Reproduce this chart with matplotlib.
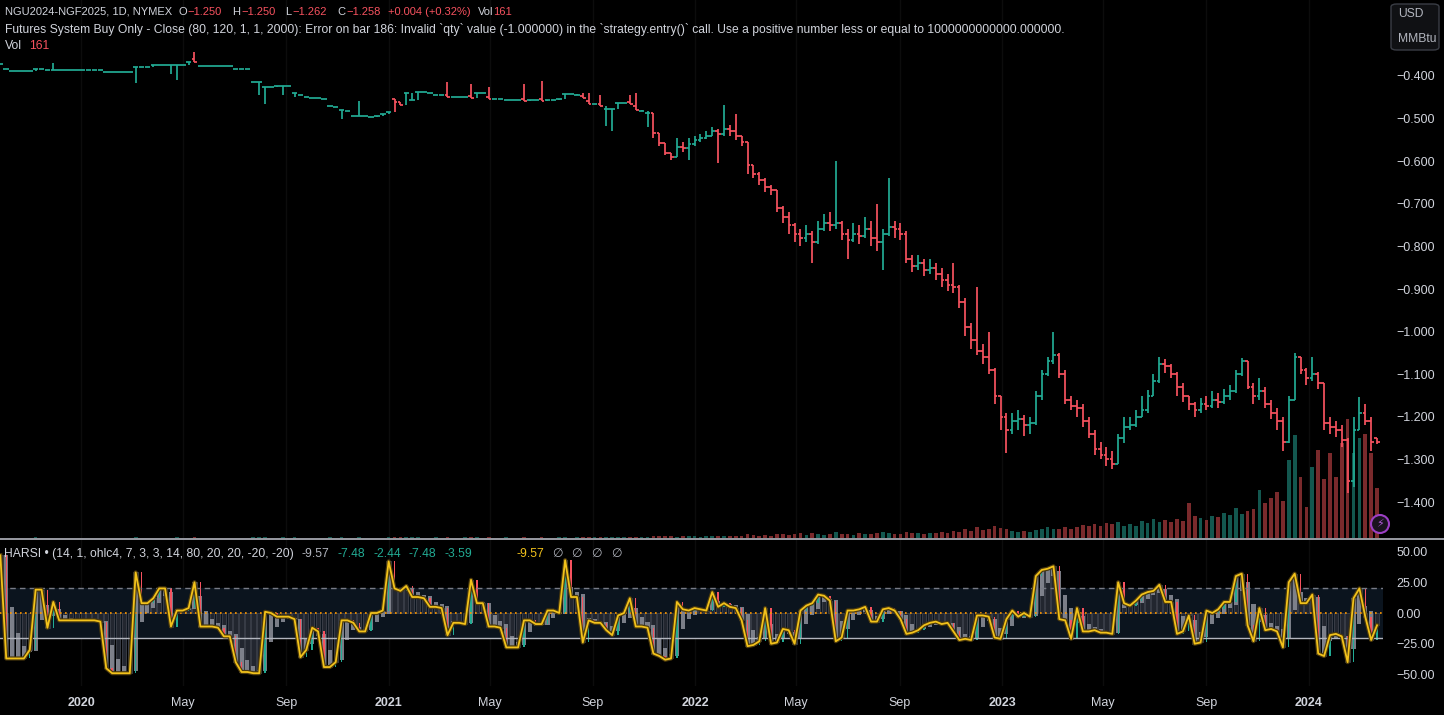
import numpy as np
import pandas as pd
import matplotlib
matplotlib.use("Agg")
import matplotlib.pyplot as plt
import matplotlib.dates as mdates
from matplotlib.collections import LineCollection
from matplotlib.patches import FancyBboxPatch, Circle
import matplotlib.patheffects as pe

plt.rcParams['font.family'] = ['Liberation Sans', 'DejaVu Sans']

# ---------------- data (weekly sampling) ----------------
start_date = '2019-09-27'
close = [-0.372,-0.384,-0.388,-0.388,-0.388,-0.388,-0.384,-0.384,-0.386,-0.386,
 -0.386,-0.386,-0.386,-0.386,-0.386,-0.386,-0.386,-0.386,-0.390,-0.390,
 -0.390,-0.391,-0.391,-0.379,-0.379,-0.379,-0.374,-0.374,-0.374,-0.374,
 -0.374,-0.374,-0.366,-0.367,-0.377,-0.377,-0.377,-0.377,-0.377,-0.377,
 -0.384,-0.384,-0.384,-0.415,-0.415,-0.426,-0.426,-0.424,-0.424,-0.424,
 -0.440,-0.445,-0.450,-0.452,-0.452,-0.455,-0.470,-0.473,-0.480,-0.483,
 -0.494,-0.494,-0.494,-0.496,-0.494,-0.490,-0.485,-0.460,-0.468,-0.440,
 -0.457,-0.437,-0.437,-0.440,-0.445,-0.445,-0.450,-0.450,-0.450,-0.449,
 -0.452,-0.440,-0.441,-0.454,-0.454,-0.454,-0.457,-0.457,-0.457,-0.458,
 -0.457,-0.457,-0.458,-0.457,-0.457,-0.455,-0.442,-0.442,-0.445,-0.452,
 -0.465,-0.465,-0.470,-0.477,-0.477,-0.463,-0.463,-0.466,-0.480,-0.482,
 -0.487,-0.534,-0.557,-0.580,-0.590,-0.567,-0.570,-0.560,-0.550,-0.545,
 -0.540,-0.530,-0.535,-0.525,-0.530,-0.540,-0.555,-0.610,-0.630,-0.645,
 -0.660,-0.668,-0.710,-0.730,-0.750,-0.770,-0.780,-0.770,-0.790,-0.760,
 -0.745,-0.750,-0.745,-0.770,-0.785,-0.770,-0.775,-0.760,-0.780,-0.790,
 -0.770,-0.755,-0.760,-0.770,-0.830,-0.845,-0.840,-0.855,-0.850,-0.865,
 -0.880,-0.890,-0.895,-0.930,-0.990,-1.020,-1.045,-1.060,-1.090,-1.150,
 -1.200,-1.230,-1.210,-1.205,-1.220,-1.215,-1.150,-1.100,-1.070,-1.055,
 -1.100,-1.160,-1.175,-1.180,-1.210,-1.240,-1.275,-1.290,-1.300,-1.310,
 -1.250,-1.225,-1.220,-1.200,-1.185,-1.150,-1.115,-1.075,-1.080,-1.100,
 -1.130,-1.150,-1.170,-1.185,-1.170,-1.175,-1.160,-1.165,-1.150,-1.140,
 -1.100,-1.070,-1.130,-1.150,-1.140,-1.170,-1.190,-1.210,-1.260,-1.160,
 -1.060,-1.090,-1.110,-1.100,-1.120,-1.215,-1.225,-1.230,-1.255,-1.350,
 -1.230,-1.190,-1.210,-1.260,-1.258]

open_ = [-0.372,-0.384,-0.388,-0.388,-0.388,-0.388,-0.384,-0.384,-0.386,-0.386,
 -0.386,-0.386,-0.386,-0.386,-0.386,-0.386,-0.386,-0.386,-0.390,-0.390,
 -0.390,-0.391,-0.391,-0.379,-0.379,-0.379,-0.374,-0.374,-0.374,-0.374,
 -0.374,-0.374,-0.366,-0.360,-0.377,-0.377,-0.377,-0.377,-0.377,-0.377,
 -0.384,-0.384,-0.384,-0.415,-0.415,-0.426,-0.426,-0.424,-0.424,-0.424,
 -0.440,-0.445,-0.450,-0.452,-0.452,-0.455,-0.470,-0.473,-0.480,-0.483,
 -0.494,-0.494,-0.494,-0.496,-0.494,-0.490,-0.485,-0.455,-0.462,-0.440,
 -0.457,-0.437,-0.437,-0.440,-0.445,-0.445,-0.445,-0.450,-0.450,-0.449,
 -0.448,-0.440,-0.441,-0.450,-0.454,-0.454,-0.457,-0.457,-0.457,-0.455,
 -0.457,-0.457,-0.455,-0.457,-0.457,-0.455,-0.442,-0.442,-0.445,-0.447,
 -0.458,-0.465,-0.465,-0.477,-0.477,-0.463,-0.463,-0.460,-0.470,-0.482,
 -0.487,-0.487,-0.534,-0.557,-0.580,-0.590,-0.567,-0.570,-0.560,-0.550,
 -0.545,-0.540,-0.530,-0.535,-0.525,-0.530,-0.540,-0.555,-0.610,-0.630,
 -0.645,-0.660,-0.668,-0.710,-0.730,-0.750,-0.770,-0.780,-0.770,-0.790,
 -0.760,-0.745,-0.750,-0.745,-0.770,-0.785,-0.770,-0.775,-0.760,-0.780,
 -0.790,-0.770,-0.755,-0.760,-0.770,-0.830,-0.845,-0.840,-0.855,-0.850,
 -0.865,-0.880,-0.890,-0.895,-0.930,-0.990,-1.020,-1.045,-1.060,-1.090,
 -1.150,-1.200,-1.230,-1.210,-1.205,-1.220,-1.215,-1.150,-1.100,-1.070,
 -1.055,-1.100,-1.160,-1.175,-1.180,-1.210,-1.240,-1.275,-1.290,-1.300,
 -1.310,-1.250,-1.225,-1.220,-1.200,-1.185,-1.150,-1.115,-1.075,-1.080,
 -1.100,-1.130,-1.150,-1.170,-1.185,-1.170,-1.175,-1.160,-1.165,-1.150,
 -1.140,-1.100,-1.070,-1.130,-1.150,-1.140,-1.170,-1.190,-1.210,-1.260,
 -1.160,-1.060,-1.090,-1.110,-1.100,-1.120,-1.215,-1.225,-1.230,-1.255,
 -1.350,-1.230,-1.190,-1.210,-1.250]

high = [-0.372,-0.384,-0.388,-0.388,-0.388,-0.388,-0.384,-0.384,-0.386,-0.369,
 -0.386,-0.386,-0.386,-0.386,-0.386,-0.386,-0.386,-0.386,-0.390,-0.390,
 -0.390,-0.391,-0.391,-0.379,-0.379,-0.379,-0.374,-0.374,-0.374,-0.374,
 -0.374,-0.374,-0.366,-0.344,-0.377,-0.377,-0.377,-0.377,-0.377,-0.377,
 -0.384,-0.384,-0.384,-0.415,-0.415,-0.426,-0.426,-0.424,-0.424,-0.424,
 -0.440,-0.445,-0.450,-0.452,-0.452,-0.455,-0.470,-0.473,-0.480,-0.483,
 -0.494,-0.459,-0.494,-0.496,-0.494,-0.490,-0.485,-0.455,-0.460,-0.440,
 -0.440,-0.437,-0.437,-0.440,-0.445,-0.445,-0.414,-0.450,-0.450,-0.449,
 -0.418,-0.440,-0.440,-0.425,-0.454,-0.454,-0.457,-0.457,-0.457,-0.419,
 -0.457,-0.457,-0.412,-0.457,-0.457,-0.455,-0.442,-0.442,-0.442,-0.440,
 -0.440,-0.465,-0.445,-0.470,-0.477,-0.463,-0.463,-0.445,-0.440,-0.480,
 -0.482,-0.487,-0.534,-0.560,-0.580,-0.545,-0.555,-0.545,-0.540,-0.535,
 -0.530,-0.520,-0.525,-0.468,-0.515,-0.490,-0.540,-0.600,-0.610,-0.625,
 -0.640,-0.655,-0.670,-0.705,-0.720,-0.745,-0.760,-0.750,-0.765,-0.740,
 -0.725,-0.720,-0.600,-0.740,-0.760,-0.745,-0.750,-0.730,-0.740,-0.700,
 -0.760,-0.640,-0.740,-0.745,-0.765,-0.820,-0.820,-0.830,-0.830,-0.840,
 -0.850,-0.865,-0.840,-0.890,-0.920,-0.980,-0.895,-1.030,-1.000,-1.085,
 -1.150,-1.190,-1.190,-1.185,-1.195,-1.200,-1.140,-1.090,-1.060,-1.000,
 -1.050,-1.090,-1.150,-1.160,-1.170,-1.200,-1.230,-1.260,-1.270,-1.280,
 -1.240,-1.200,-1.200,-1.185,-1.150,-1.137,-1.100,-1.060,-1.065,-1.075,
 -1.095,-1.120,-1.150,-1.165,-1.155,-1.150,-1.140,-1.145,-1.135,-1.125,
 -1.090,-1.062,-1.075,-1.120,-1.110,-1.130,-1.160,-1.180,-1.200,-1.150,
 -1.050,-1.060,-1.085,-1.060,-1.095,-1.130,-1.200,-1.210,-1.220,-1.250,
 -1.200,-1.153,-1.170,-1.200,-1.250]

low = [-0.372,-0.384,-0.388,-0.388,-0.388,-0.388,-0.388,-0.384,-0.386,-0.386,
 -0.386,-0.386,-0.386,-0.386,-0.386,-0.386,-0.386,-0.386,-0.390,-0.390,
 -0.390,-0.391,-0.391,-0.417,-0.379,-0.379,-0.379,-0.374,-0.374,-0.395,
 -0.410,-0.374,-0.374,-0.367,-0.377,-0.377,-0.377,-0.377,-0.377,-0.377,
 -0.384,-0.384,-0.384,-0.415,-0.445,-0.466,-0.426,-0.426,-0.445,-0.424,
 -0.450,-0.445,-0.450,-0.452,-0.452,-0.455,-0.470,-0.473,-0.500,-0.483,
 -0.494,-0.494,-0.494,-0.496,-0.496,-0.494,-0.490,-0.485,-0.468,-0.468,
 -0.457,-0.457,-0.437,-0.440,-0.445,-0.445,-0.450,-0.450,-0.450,-0.450,
 -0.452,-0.452,-0.441,-0.454,-0.454,-0.454,-0.457,-0.457,-0.457,-0.458,
 -0.458,-0.457,-0.458,-0.458,-0.457,-0.457,-0.455,-0.442,-0.445,-0.452,
 -0.465,-0.465,-0.470,-0.517,-0.530,-0.477,-0.463,-0.466,-0.480,-0.482,
 -0.520,-0.545,-0.565,-0.585,-0.597,-0.590,-0.578,-0.597,-0.565,-0.555,
 -0.548,-0.540,-0.605,-0.540,-0.540,-0.550,-0.565,-0.630,-0.640,-0.655,
 -0.672,-0.680,-0.720,-0.745,-0.770,-0.790,-0.800,-0.790,-0.840,-0.795,
 -0.765,-0.765,-0.760,-0.785,-0.830,-0.790,-0.795,-0.780,-0.800,-0.810,
 -0.855,-0.775,-0.780,-0.785,-0.840,-0.860,-0.855,-0.870,-0.865,-0.880,
 -0.895,-0.905,-0.910,-0.945,-1.010,-1.040,-1.055,-1.075,-1.100,-1.170,
 -1.230,-1.285,-1.240,-1.230,-1.245,-1.240,-1.220,-1.160,-1.105,-1.075,
 -1.110,-1.170,-1.185,-1.200,-1.225,-1.250,-1.290,-1.300,-1.315,-1.322,
 -1.310,-1.262,-1.230,-1.225,-1.200,-1.190,-1.150,-1.120,-1.097,-1.110,
 -1.150,-1.165,-1.185,-1.200,-1.190,-1.185,-1.180,-1.180,-1.170,-1.160,
 -1.145,-1.105,-1.135,-1.170,-1.160,-1.180,-1.205,-1.230,-1.280,-1.262,
 -1.160,-1.100,-1.125,-1.115,-1.135,-1.230,-1.240,-1.247,-1.270,-1.380,
 -1.365,-1.215,-1.220,-1.280,-1.265]

volume = [1,0,0,1,0,0,2,0,0,1, 0,0,1,0,0,0,1,0,0,0, 1,0,0,2,0,0,1,0,0,1,
 2,0,0,3,0,0,0,1,0,0, 0,1,0,3,2,3,1,0,2,1, 2,1,1,0,1,1,2,1,2,1,
 1,2,0,1,1,0,2,3,2,3, 2,3,1,1,2,1,3,1,1,2, 3,2,1,3,1,1,2,1,1,3,
 1,1,3,1,1,2,2,1,2,3, 3,2,3,4,4,3,2,3,4,3, 4,6,5,5,6,4,5,6,5,4,
 5,6,6,8,6,5,7,12,9,8, 10,8,14,12,10,13,16,11,15,12, 10,12,18,14,13,11,15,12,14,16,
 18,16,12,14,20,15,17,14,16,15, 18,16,22,20,30,24,35,26,30,38, 32,28,22,18,24,20,26,30,34,28,
 30,36,28,34,42,38,45,40,48,44, 52,40,46,38,55,48,60,50,58,52, 62,55,112,70,64,58,72,66,80,75,
 96,78,88,92,154,112,130,147,120,250, 330,195,100,227,282,190,272,195,304,384,
 272,323,336,272,161]

harsi_rsi = [47,-37,-37,-37,-37,-30,19,19,-12,9, -6,-6,-6,-6,-6,-6,-6,-7,-45,-49,
 -49,-49,-49,33,8,8,12,20,20,-11, 2,2,4,25,-11,-11,-11,-12,-19,-19,
 -40,-48,-48,-49,-49,1,0,-3,-3,-3, -5,-36,-30,-12,-15,-44,-44,-40,-6,-6,
 -8,-15,-15,0,0,2,42,20,18,22, 13,13,12,5,5,4,-18,-8,-8,-9,
 27,8,8,-11,-11,-12,-28,-28,-28,-6, -6,-9,-9,2,2,0,43,13,13,-24,
 -6,-8,-8,-14,-18,-2,0,12,-11,-11, -12,-33,-35,-38,-37,9,3,2,4,3,
 2,17,5,8,5,4,-6,-27,-26,-23, 4,-25,-24,-13,-14,-25,2,6,8,15,
 14,10,-23,-20,2,2,3,5,-7,-7, 3,4,2,-5,-17,-16,-14,-10,-8,-7,
 -9,-8,-15,-22,-21,-22,-2,-2,-3,-20, -21,-5,2,-3,0,-3,30,35,36,38,
 -5,-6,-21,4,-15,-15,-14,-16,-16,-17, 25,8,6,10,15,17,18,23,9,9,
 -17,-15,-2,-25,-24,2,0,3,9,9, 30,32,-10,-23,4,-14,-13,-15,-28,25,
 32,8,8,15,-33,-35,-18,-17,-19,-40, 12,20,-3,-22,-10]

price_ticks = [-0.4,-0.5,-0.6,-0.7,-0.8,-0.9,-1.0,-1.1,-1.2,-1.3,-1.4]
osc_ticks = [50, 25, 0, -25, -50]
month_ticks = ['2020-01-01','2020-05-01','2020-09-01','2021-01-01','2021-05-01','2021-09-01',
               '2022-01-01','2022-05-01','2022-09-01','2023-01-01','2023-05-01','2023-09-01',
               '2024-01-01']
month_labels = ['2020','May','Sep','2021','May','Sep','2022','May','Sep','2023','May','Sep','2024']

# ---------------- styling ----------------
BG = '#000000'
UP = '#22ab94'
DN = '#f7525f'
TXT = '#d1d4dc'
W, H = 1444, 715

def fx(x): return x / W
def fy(y): return 1 - y / H

fig = plt.figure(figsize=(W/100, H/100), dpi=100, facecolor=BG)
ax_vol = fig.add_axes([0, fy(538), fx(1383), 538/H])
ax = fig.add_axes([0, fy(538), fx(1383), 538/H], sharex=ax_vol)
ax2 = fig.add_axes([0, fy(686), fx(1383), 146/H])
for a in (ax_vol, ax, ax2):
    a.set_facecolor(BG)
    for s in a.spines.values():
        s.set_visible(False)
ax.patch.set_visible(False)

dates = pd.date_range(start_date, periods=len(close), freq='7D')
d = mdates.date2num(dates)
c = np.array(close)
o = np.array(open_)
hi = np.maximum(np.array(high), np.maximum(o, c))
lo = np.minimum(np.array(low), np.minimum(o, c))
up = c >= o
cols = [UP if u else DN for u in up]

xl = mdates.date2num(pd.Timestamp('2019-09-26 14:00'))
xr = mdates.date2num(pd.Timestamp('2024-03-29 02:00'))

# volume
vcols = ['#13574f' if u else '#7a2a2c' for u in up]
ax_vol.bar(d, volume, width=4.4, color=vcols, linewidth=0)
ax_vol.set_ylim(0, 1730)
ax_vol.set_yticks([])

# grid
for tk in month_ticks:
    tt = mdates.date2num(pd.Timestamp(tk))
    ax_vol.axvline(tt, color='#0c0c0c', lw=1, zorder=0)
    ax2.axvline(tt, color='#0c0c0c', lw=1, zorder=0)

# OHLC bars
segs = []
for i in range(len(d)):
    segs.append([(d[i], lo[i]), (d[i], hi[i])])
    segs.append([(d[i] - 3.3, o[i]), (d[i], o[i])])
    segs.append([(d[i], c[i]), (d[i] + 3.3, c[i])])
seg_cols = [col for col in cols for _ in range(3)]
ax.add_collection(LineCollection(segs, colors=seg_cols, linewidths=1.25))
ax.set_xlim(xl, xr)
ax.set_ylim(-1.4845, -0.2216)
ax.yaxis.tick_right()
ax.set_yticks(price_ticks)
ax.set_yticklabels([('\u2212%.3f' % abs(v)) for v in price_ticks])
ax.tick_params(axis='y', length=0, pad=9.5, labelsize=9, colors=TXT)
ax.tick_params(axis='x', bottom=False, labelbottom=False)
ax_vol.tick_params(axis='x', bottom=False, labelbottom=False)

# ---------------- HARSI pane ----------------
r = np.array(harsi_rsi, dtype=float)
ro = np.concatenate([[r[0]], r[:-1]])
ha_o = np.zeros_like(r)
ha_o[0] = r[0]
for i in range(1, len(r)):
    ha_o[i] = (ha_o[i-1] + r[i-1]) / 2
ax2.axhspan(-20, 20, color='#0b141e', zorder=0.5, lw=0)
ax2.bar(d, r, width=5.2, bottom=0, color='#22262f', edgecolor='#3e424c', linewidth=0.6, zorder=1)
ax2.bar(d, r - ha_o, width=4.8, bottom=ha_o, color='#8e919b', alpha=0.85, linewidth=0, zorder=1.5)
rc = [UP if a >= b else DN for a, b in zip(r, ro)]
ax2.bar(d, r - ro, width=1.6, bottom=ro, color=rc, linewidth=0, zorder=2)
ax2.axhline(20, color='#787b86', lw=1, ls=(0, (4, 3)), zorder=2.5)
ax2.axhline(-20, color='#b2b5be', lw=1, zorder=2.5)
ax2.axhline(0, color='#ff9800', lw=1.2, ls=(0, (1, 2)), zorder=2.5)
ax2.plot(d, r, color='#f2c21b', lw=1.3, zorder=3,
         path_effects=[pe.Stroke(linewidth=3.0, foreground='#4d3b0c'), pe.Normal()])
ax2.set_xlim(xl, xr)
ax2.set_ylim(-59.4, 59.4)
ax2.yaxis.tick_right()
ax2.set_yticks(osc_ticks)
ax2.set_yticklabels([('\u2212%.2f' % abs(v)) if v < 0 else '%.2f' % v for v in osc_ticks])
ax2.tick_params(axis='y', length=0, pad=9.5, labelsize=9, colors=TXT)
ax2.set_xticks([mdates.date2num(pd.Timestamp(tk)) for tk in month_ticks])
ax2.set_xticklabels(month_labels)
ax2.tick_params(axis='x', length=0, pad=8, labelsize=9, colors=TXT)
for lab in ax2.get_xticklabels():
    if lab.get_text().isdigit():
        lab.set_fontweight('bold')

# pane separator
fig.add_artist(plt.Line2D([0, 1], [fy(539), fy(539)], color='#b2b5be', lw=1.2))

# ---------------- texts ----------------
renderer = fig.canvas.get_renderer()

def chain(x, y, parts, fs=8.7):
    for s, col, gap in parts:
        tx = fig.text(fx(x), fy(y), s, color=col, fontsize=fs, va='center', ha='left')
        w = tx.get_window_extent(renderer=renderer).width
        x = x + w + gap

chain(5, 12, [('NGU2024-NGF2025, 1D, NYMEX', TXT, 6), ('O', TXT, 1), ('\u22121.250', DN, 10),
              ('H', TXT, 1), ('\u22121.250', DN, 10), ('L', TXT, 1), ('\u22121.262', DN, 10),
              ('C', TXT, 1), ('\u22121.258', DN, 8), ('+0.004 (+0.32%)', DN, 7),
              ('Vol', TXT, 0), ('161', DN, 0)], fs=8.0)
chain(5, 29.5, [('Futures System Buy Only - Close (80, 120, 1, 1, 2000): Error on bar 186: Invalid `qty` value (-1.000000) in the `strategy.entry()` call. Use a positive number less or equal to 1000000000000.000000.', TXT, 0)])
chain(5, 46, [('Vol', TXT, 7), ('161', DN, 0)])

chain(4, 554, [('HARSI \u2022 (14, 1, ohlc4, 7, 3, 3, 14, 80, 20, 20, -20, -20)', TXT, 8),
               ('-9.57', '#b2b5be', 8), ('-7.48', UP, 8), ('-2.44', UP, 8),
               ('-7.48', UP, 8), ('-3.59', UP, 44), ('-9.57', '#f2c21b', 8),
               ('\u2205', '#b2b5be', 9), ('\u2205', '#b2b5be', 9), ('\u2205', '#b2b5be', 9),
               ('\u2205', '#b2b5be', 0)])

# unit box
box = FancyBboxPatch((fx(1391), fy(50)), fx(48), 46/H,
                     boxstyle='round,pad=0,rounding_size=0.004',
                     transform=fig.transFigure, facecolor='#101114',
                     edgecolor='#3a3d45', lw=1)
fig.add_artist(box)
fig.text(fx(1398), fy(14), 'USD', color='#b2b5be', fontsize=8.7, va='center')
fig.text(fx(1398), fy(39), 'MMBtu', color='#b2b5be', fontsize=8.7, va='center')

# lightning badge (circle in inches so it stays round)
circ = Circle((1380/100, (H-524)/100), 0.09, transform=fig.dpi_scale_trans,
              facecolor='#1a1320', edgecolor='#9c3fc4', lw=1.5)
fig.add_artist(circ)
fig.text(fx(1380), fy(524), '\u26a1', color='#b05ad8', fontsize=8,
         ha='center', va='center', family='DejaVu Sans')

fig.savefig('out.png', dpi=100, facecolor=BG)
